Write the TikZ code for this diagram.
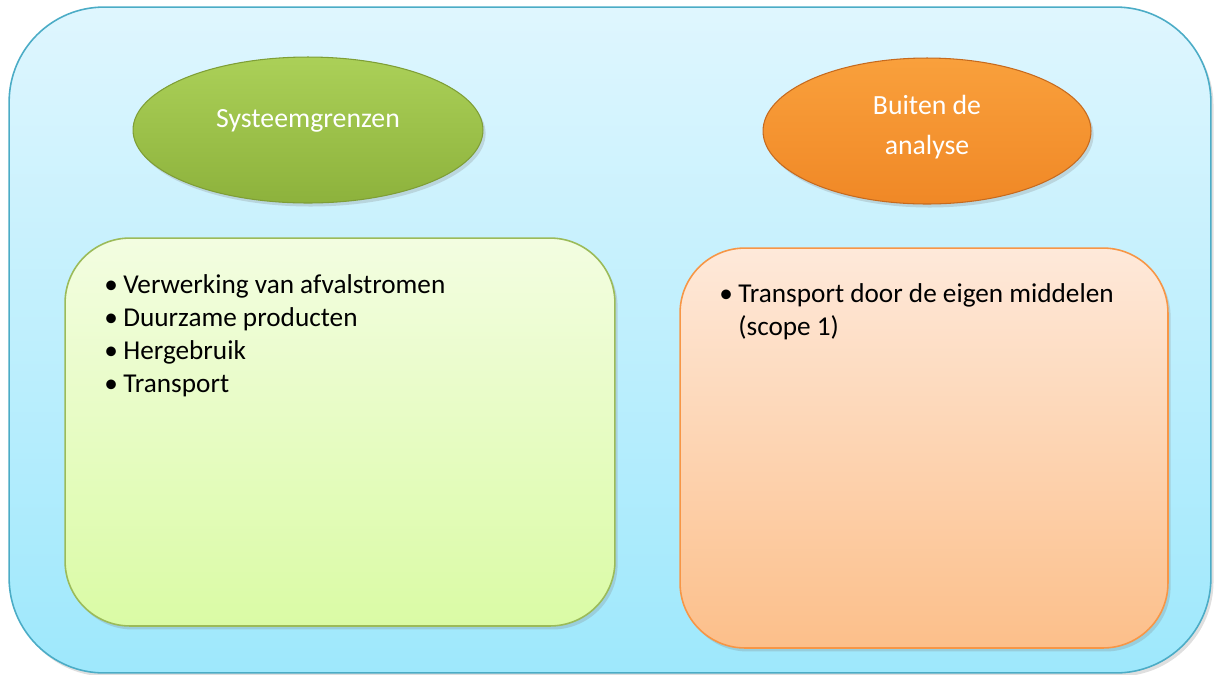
\documentclass[tikz,border=0pt]{standalone}
\usepackage{fontspec}
\setmainfont{Carlito}
\usetikzlibrary{shapes.geometric,shadows}
\definecolor{skytop}{HTML}{DFF6FE}
\definecolor{skybot}{HTML}{9EE8FC}
\definecolor{skyline}{HTML}{4BACC6}
\definecolor{olivetop}{HTML}{ABD058}
\definecolor{olivebot}{HTML}{8DB23C}
\definecolor{oliveline}{HTML}{7E9E36}
\definecolor{amber}{HTML}{F9A03C}
\definecolor{amberbot}{HTML}{F08826}
\definecolor{amberline}{HTML}{C66A1E}
\definecolor{limetop}{HTML}{F3FDE1}
\definecolor{limebot}{HTML}{DAFBA5}
\definecolor{limeline}{HTML}{9BBB59}
\definecolor{peachtop}{HTML}{FEE9DA}
\definecolor{peachbot}{HTML}{FCBF8A}
\definecolor{peachline}{HTML}{F79646}
\newcommand{\bul}{\makebox[0.38cm][l]{\textbullet}}

\begin{document}
\begin{tikzpicture}[x=0.02cm, y=-0.02cm, every node/.style={inner sep=0pt},
	shade/.style={drop shadow={shadow xshift=1.5pt, shadow yshift=-2pt, opacity=0.25}},
	frame/.style={shade, draw=skyline, line width=0.9pt, rounded corners=1.9cm, top color=skytop, bottom color=skybot, minimum width=24.04cm, minimum height=13.32cm},
	oval/.style={shade, ellipse, line width=0.6pt, minimum height=2.92cm},
	card/.style={shade, line width=0.9pt, rounded corners=1.3cm},
	head/.style={text=white, align=center, font=\fontsize{15.8}{22.7}\selectfont},
	items/.style={anchor=base west, align=left, font=\fontsize{15.5}{18.6}\selectfont}]
	\useasboundingbox (0,0) rectangle (1222,674);
	\node[frame] (F) at (610, 340) {};
	\node[oval, draw=oliveline, top color=olivetop, bottom color=olivebot, minimum width=7cm] (S) at (308, 130) {};
	\node[oval, draw=amberline, top color=amber, bottom color=amberbot, minimum width=6.56cm] (B) at (927, 131) {};
	\node[head] (St) at (308, 121) {Systeemgrenzen};
	\node[head] (Bt) at (927, 127) {Buiten de\\analyse};
	\node[card, draw=limeline, top color=limetop, bottom color=limebot, minimum width=11cm, minimum height=7.76cm] (G) at (340, 432) {};
	\node[card, draw=peachline, top color=peachtop, bottom color=peachbot, minimum width=9.76cm, minimum height=8cm] (O) at (924, 448) {};
	% base = baseline of the last line
	\node[items] (Gt) at (104, 392) {\bul Verwerking van afvalstromen\\ \bul Duurzame producten\\ \bul Hergebruik\\ \bul Transport};
	\node[items] (Ot) at (719, 335) {\bul Transport door de eigen middelen\\ \hspace{0.38cm}(scope 1)};
\end{tikzpicture}
\end{document}
